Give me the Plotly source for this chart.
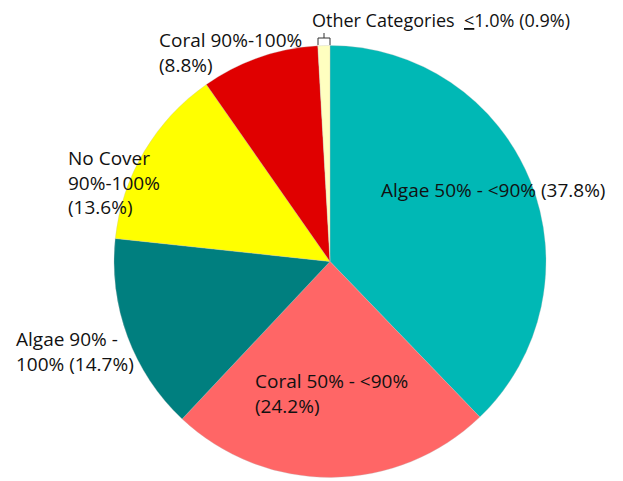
import plotly.graph_objects as go

categories = ["Algae 50% - <90%", "Coral 50% - <90%", "Algae 90% - 100%",
              "No Cover 90%-100%", "Coral 90%-100%", "Other Categories \u22641.0%"]
values = [37.8, 24.2, 14.7, 13.6, 8.8, 0.9]
colors = ["#00B8B5", "#FF6666", "#007F7F", "#FFFF00", "#E00000", "#FFFFC0"]

label_texts = [
    "Algae 50% - <90% (37.8%)",
    "Coral 50% - <90%<br>(24.2%)",
    "Algae 90% -<br>100% (14.7%)",
    "No Cover<br>90%-100%<br>(13.6%)",
    "Coral 90%-100%<br>(8.8%)",
    "Other Categories  <u><</u>1.0% (0.9%)",
]
label_pos = [(380, 190), (254, 393), (15, 351), (67, 182), (158, 53), (311, 20)]
label_size = [19, 19, 19, 19, 19, 18]

W, H = 623, 481
OFF = 8  # page body margin


def px(x):
    return (x - OFF) / W


def py(y):
    return 1 - (y - OFF) / H


fig = go.Figure(go.Pie(
    labels=categories, values=values, sort=False, direction="clockwise",
    marker=dict(colors=colors, line=dict(color="#BBBBBB", width=0.3)),
    textinfo="none", hoverinfo="label+percent", showlegend=False,
    domain=dict(x=[px(114), px(546)], y=[py(478), py(45)]),
))

for t, (x, y), s in zip(label_texts, label_pos, label_size):
    fig.add_annotation(text=t, x=px(x), y=py(y), xref="paper", yref="paper",
                       xanchor="left", yanchor="middle", align="left", showarrow=False,
                       borderpad=0,
                       font=dict(family="Open Sans", size=s, color="#111111"))

# bracket connector for the small slice
fig.add_shape(type="path", xref="paper", yref="paper",
              path=f"M {px(318)} {py(45)} L {px(318)} {py(38)} L {px(330)} {py(38)} L {px(330)} {py(45)} "
                   f"M {px(324)} {py(38)} L {px(324)} {py(33)}",
              line=dict(color="#333333", width=1))

fig.update_layout(width=W, height=H, margin=dict(l=0, r=0, t=0, b=0),
                  paper_bgcolor="white", plot_bgcolor="white")
fig.write_html("out.html")
